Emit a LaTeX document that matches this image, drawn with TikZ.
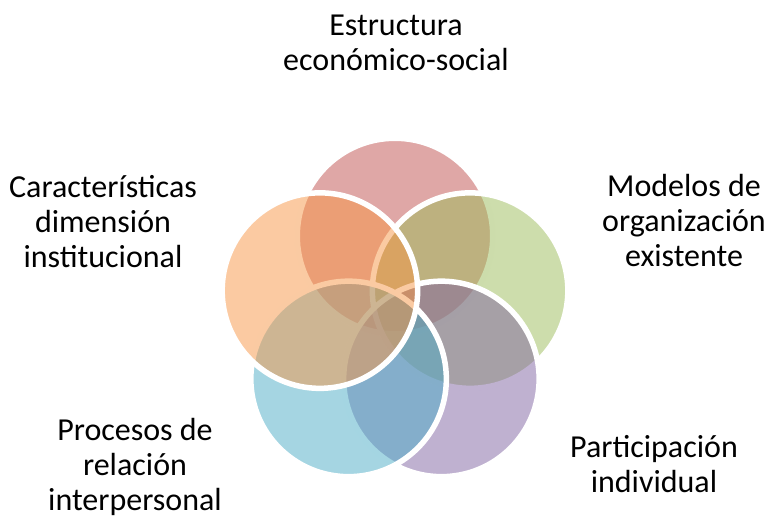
\documentclass[tikz,border=0pt]{standalone}
\usepackage{fontspec}
\setmainfont{Carlito}
\usetikzlibrary{calc}
\definecolor{cred}{RGB}{192,80,77}
\definecolor{cgreen}{RGB}{155,187,89}
\definecolor{cpurple}{RGB}{128,100,162}
\definecolor{cblue}{RGB}{75,172,198}
\definecolor{corange}{RGB}{247,150,70}
\tikzset{
  ring/.style={circle, minimum size=195.5pt, inner sep=0pt, fill opacity=0.5, draw=white, draw opacity=1, line width=5.5pt},
  lbl/.style={font=\fontsize{32}{35}\selectfont, anchor=base, inner sep=0pt, text=black}
}
\begin{document}
\begin{tikzpicture}[x=1pt,y=-1pt]
\useasboundingbox (0,0) rectangle (771,515);
\coordinate (c) at (395,315);
\node[ring, fill=cred]    (r1) at ($(c)+(0,-79)$) {};
\node[ring, fill=cgreen]  (r2) at ($(c)+(75.1,-24.4)$) {};
\node[ring, fill=cpurple] (r3) at ($(c)+(46.4,63.9)$) {};
\node[ring, fill=cblue]   (r4) at ($(c)+(-46.4,63.9)$) {};
\node[ring, fill=corange] (r5) at ($(c)+(-75.1,-24.4)$) {};
\node[lbl] (t1) at (396,70) {\begin{tabular}[b]{@{}c@{}}Estructura\\económico-social\end{tabular}};
\node[lbl] (t2) at (684,266) {\begin{tabular}[b]{@{}c@{}}Modelos de\\organización\\existente\end{tabular}};
\node[lbl] (t3) at (654,492) {\begin{tabular}[b]{@{}c@{}}Participación\\individual\end{tabular}};
\node[lbl] (t4) at (135,510) {\begin{tabular}[b]{@{}c@{}}Procesos de\\relación\\interpersonal\end{tabular}};
\node[lbl] (t5) at (103,267) {\begin{tabular}[b]{@{}c@{}}Características\\dimensión\\institucional\end{tabular}};
\end{tikzpicture}
\end{document}
